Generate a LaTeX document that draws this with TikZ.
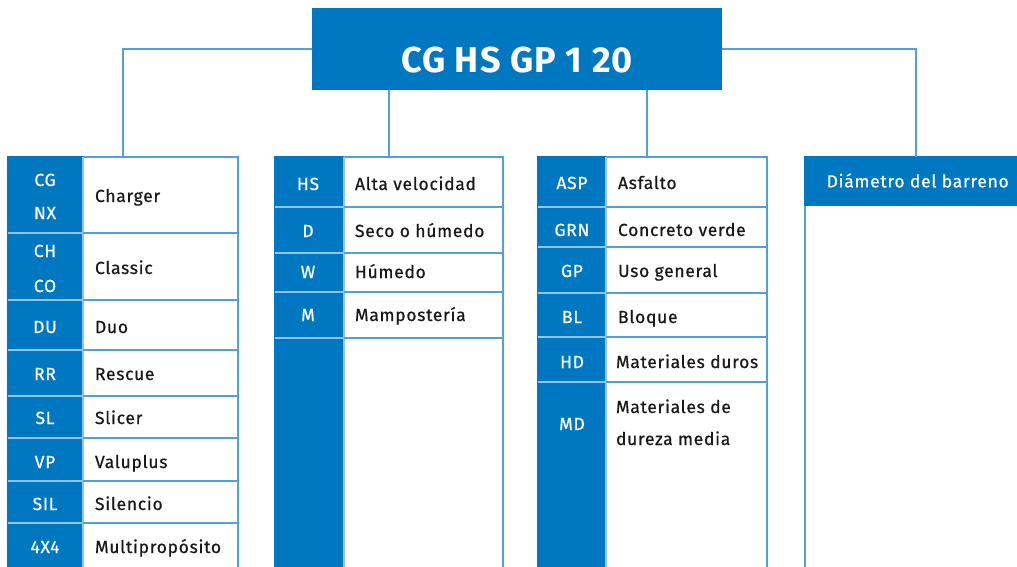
\documentclass[tikz,border=0pt]{standalone}
\usepackage{fontspec}
\setmainfont{Fira Sans}[LetterSpace=4, FakeBold=0.6, BoldFeatures={LetterSpace=3,FakeBold=0}]
\usepackage{tikz}
\usetikzlibrary{positioning}

\definecolor{codeblue}{RGB}{0,120,193}
\definecolor{linkblue}{RGB}{80,160,218}
\definecolor{sepblue}{RGB}{150,196,232}

\begin{document}
\begin{tikzpicture}[x=1pt, y=-1pt,
    every node/.style={font=\fontsize{17.5}{21}\selectfont, inner sep=0pt, outer sep=0pt},
    code/.style={text=white, anchor=base},
    desc/.style={text=black!90, anchor=base west},
    frame/.style={draw=linkblue, line width=1.2pt, fill=white, anchor=north west, minimum height=440pt},
    strip/.style={fill=codeblue},
    sepin/.style={draw=sepblue, line width=1.2pt},
    sepout/.style={draw=linkblue, line width=1.2pt},
    link/.style={draw=linkblue, line width=1.4pt}]
    \useasboundingbox (0,0) rectangle (1017,566);
    \clip (0,0) rectangle (1017,566);

    % titolo
    \node[fill=codeblue, minimum width=410pt, minimum height=82pt] (title) at (517,49) {};
    \node[text=white, anchor=base, font=\fontsize{36}{40}\selectfont\bfseries] (titletext) at (517,72) {CG HS GP 1 20};

    % colonne
    \node[frame, minimum width=230pt] (colA) at (8,157) {};
    \node[frame, minimum width=228pt] (colB) at (275,157) {};
    \node[frame, minimum width=229pt] (colC) at (538,157) {};
    \node[frame, minimum width=222pt] (colD) at (805,157) {};
    \fill[strip] (7.4,156.4) rectangle (83,580);
    \fill[strip] (274.4,156.4) rectangle (344,580);
    \fill[strip] (537.4,156.4) rectangle (606,580);
    \draw[sepin] (83,157) -- (83,580);
    \draw[sepin] (344,157) -- (344,580);
    \draw[sepin] (606,157) -- (606,580);
    \node[fill=codeblue, text=white, anchor=north west, minimum width=222.6pt, minimum height=50pt,
        text height=12pt, text depth=0pt, xshift=2pt] (colDhead) at (804.4,156.4) {Diámetro del barreno};
    \fill[codeblue] (804.4,156.4) rectangle (808,206.4);

    % connettori
    \draw[link] (title.west) -| (colA.north);
    \draw[link] (title.east) -| (colD.north);
    \draw[link] (title.south -| colB.north) -- (colB.north);
    \draw[link] ([xshift=-5.5pt]colC.north) -- ([xshift=-5.5pt]colC.north |- title.south);

    % separatori
    \foreach \y in {233,300,350,396,438,481,523} {
        \draw[sepin] (8,\y) -- (83,\y);
        \draw[sepout] (83,\y) -- (238,\y);
    }
    \foreach \y in {207,253,292,338} {
        \draw[sepin] (275,\y) -- (344,\y);
        \draw[sepout] (344,\y) -- (503,\y);
    }
    \foreach \y in {207,247,293,337,382} {
        \draw[sepin] (538,\y) -- (606,\y);
        \draw[sepout] (606,\y) -- (767,\y);
    }

    % colonna A
    \node[code] (cgA) at (45,186) {CG};
    \node[code] (nxA) at (45,219) {NX};
    \node[desc] (chargerA) at (95,202) {Charger};
    \node[code] (chA) at (45,257) {CH};
    \node[code] (coA) at (45,292) {CO};
    \node[desc] (classicA) at (95,274) {Classic};
    \foreach \code/\desc/\y in {DU/Duo/333, RR/Rescue/380, SL/Slicer/424, VP/Valuplus/468,
        SIL/Silencio/510, 4X4/Multipropósito/553} {
        \node[code] (codeA\y) at (45,\y) {\code};
        \node[desc] (descA\y) at (95,\y) {\desc};
    }

    % colonna B
    \foreach \code/\desc/\y in {HS/Alta velocidad/190, D/Seco o húmedo/237, W/Húmedo/278,
        M/Mampostería/321} {
        \node[code] (codeB\y) at (308,\y) {\code};
        \node[desc] (descB\y) at (355,\y) {\desc};
    }

    % colonna C
    \foreach \code/\desc/\y in {ASP/Asfalto/189, GRN/Concreto verde/236, GP/Uso general/277,
        BL/Bloque/323} {
        \node[code] (codeC\y) at (572,\y) {\code};
        \node[desc] (descC\y) at (618,\y) {\desc};
    }
    \node[code] (hdC) at (572,368) {HD};
    \node[desc] (durosC) at (616,368) {Materiales duros};
    \node[code] (mdC) at (572,430) {MD};
    \node[desc] (mediaC1) at (616,413) {Materiales de};
    \node[desc] (mediaC2) at (616,445) {dureza media};
\end{tikzpicture}
\end{document}
